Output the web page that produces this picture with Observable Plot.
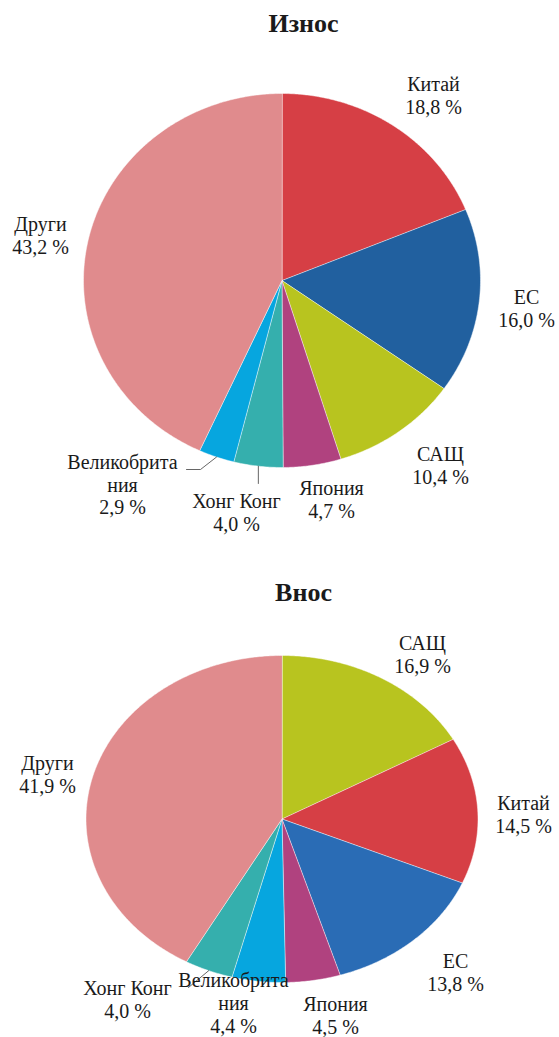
<!DOCTYPE html>
<html><head><meta charset="utf-8">
<script src="https://cdn.jsdelivr.net/npm/d3@7"></script>
<script src="https://cdn.jsdelivr.net/npm/@observablehq/plot@0.6"></script>
<style>
html,body{margin:0;padding:0;background:#fff;}
#chart svg, #chart svg text{font-family:"Liberation Serif","DejaVu Serif",serif !important;}
</style>
</head><body><div id="chart"></div>
<script>
// ---- data ----
const exportCategories = ["Китай","ЕС","САЩ","Япония","Хонг Конг","Великобритания","Други"];
const exportValues = [18.8, 16.0, 10.4, 4.7, 4.0, 2.9, 43.2];
const importCategories = ["САЩ","Китай","ЕС","Япония","Великобритания","Хонг Конг","Други"];
const importValues = [16.9, 14.5, 13.8, 4.5, 4.4, 4.0, 41.9];
const titles = ["Износ", "Внос"];
const labelLines = {"Великобритания": "Великобрита\nния"};

// ---- styles ----
const FONT = "Liberation Serif";
const baseColors = {"Китай":"#D63F45","ЕС":"#21609F","САЩ":"#B8C41F","Япония":"#B0427F","Хонг Конг":"#35AFAD","Великобритания":"#06A6DF","Други":"#E08B8D"};
const importColors = Object.assign({}, baseColors, {"ЕС":"#2A6CB5"});

// ---- layout ----
const W = 559, H = 1037;
const topPie = {cx:281.5, cy:280, rx:198.5, ry:187, colors:baseColors, fs:20, sy:1, lh:1.125,
  title:{x:303, base:31, fs:26, sy:1},
  labels:{"Китай":[433,89],"ЕС":[526,302],"САЩ":[440,459],"Япония":[331,493],"Хонг Конг":[236,506],"Великобритания":[122,467],"Други":[40,229]},
  leaders:{"Великобритания":[[200,469],[186,469]],"Хонг Конг":[[null,483]]}};
const botPie = {cx:281.5, cy:818.5, rx:196, ry:163.5, colors:importColors, fs:20, sy:0.88, lh:1.165,
  title:{x:303, base:597, fs:26, sy:0.8},
  labels:{"САЩ":[422,645],"Китай":[523,805],"ЕС":[455,963],"Япония":[335,1006],"Великобритания":[233,982],"Хонг Конг":[127,990],"Други":[47,765]},
  leaders:{"Хонг Конг":[[188,987]]}};

const fmt = v => v.toFixed(1).replace(".", ",") + " %";

function build(cats, vals, L, key){
  const arcs = d3.pie().sort(null).value(d => d)(vals);
  const pts = [], labels = [], leaders = [];
  const pos = t => ({x: L.cx + L.rx*Math.sin(t), y: L.cy - L.ry*Math.cos(t)});
  arcs.forEach((a, i) => {
    const id = key + i, c = cats[i], fill = L.colors[c];
    pts.push({id, x:L.cx, y:L.cy, fill});
    const n = Math.max(2, Math.ceil((a.endAngle - a.startAngle) / (Math.PI/360)));
    for (let k = 0; k <= n; k++) {
      const p = pos(a.startAngle + (a.endAngle - a.startAngle)*k/n);
      pts.push({id, x:p.x, y:p.y, fill});
    }
    const [lx, lb] = L.labels[c];
    labels.push({x:lx, y:lb - 0.71*L.fs*L.sy, text:(labelLines[c] || c) + "\n" + fmt(vals[i])});
    if (L.leaders[c]) {
      const e = pos((a.startAngle + a.endAngle)/2);
      leaders.push({id:"l"+id, x:e.x, y:e.y});
      L.leaders[c].forEach(([x,y]) => leaders.push({id:"l"+id, x:(x==null?e.x:x), y}));
    }
  });
  return {pts, labels, leaders};
}

const A = build(exportCategories, exportValues, topPie, "e");
const B = build(importCategories, importValues, botPie, "i");
const titleTop = [{x:topPie.title.x, y:topPie.title.base - 0.71*topPie.title.fs*topPie.title.sy, text:titles[0]}];
const titleBot = [{x:botPie.title.x, y:botPie.title.base - 0.71*botPie.title.fs*botPie.title.sy, text:titles[1]}];

const textOpts = (fs, lh) => ({x:"x", y:"y", text:"text", fontSize:fs, lineHeight:lh, lineAnchor:"top", fill:"#1a1a1a", fontFamily:FONT});

const svg = Plot.plot({
  width: W, height: H, margin: 0,
  x: {domain:[0, W], range:[0, W], axis:null},
  y: {domain:[0, H], range:[0, H], axis:null},
  color: {type:"identity"},
  style: {fontFamily:FONT + ", serif", background:"#fff", color:"#1a1a1a"},
  marks: [
    Plot.line(A.pts, {x:"x", y:"y", z:"id", fill:"fill", stroke:"#ffffff", strokeWidth:0.6, strokeOpacity:0.8, curve:"linear-closed"}),
    Plot.line(B.pts, {x:"x", y:"y", z:"id", fill:"fill", stroke:"#ffffff", strokeWidth:0.6, strokeOpacity:0.8, curve:"linear-closed"}),
    Plot.line(A.leaders, {x:"x", y:"y", z:"id", stroke:"#555", strokeWidth:0.9}),
    Plot.line(B.leaders, {x:"x", y:"y", z:"id", stroke:"#555", strokeWidth:0.9}),
    Plot.text(A.labels, {...textOpts(topPie.fs, topPie.lh), ariaLabel:"export-text"}),
    Plot.text(B.labels, {...textOpts(botPie.fs, botPie.lh), ariaLabel:"import-text"}),
    Plot.text(titleTop, {...textOpts(topPie.title.fs, 1), fontWeight:"bold", ariaLabel:"export-title"}),
    Plot.text(titleBot, {...textOpts(botPie.title.fs, 1), fontWeight:"bold", ariaLabel:"import-title"})
  ]
});

function squish(label, sy){
  svg.querySelectorAll(`g[aria-label="${label}"] text`).forEach(t => {
    const tr = t.getAttribute("transform");
    if (tr) t.setAttribute("transform", tr + ` scale(1,${sy})`);
  });
}
squish("import-text", botPie.sy);
squish("import-title", botPie.title.sy);
document.getElementById("chart").appendChild(svg);
</script>
</body></html>
